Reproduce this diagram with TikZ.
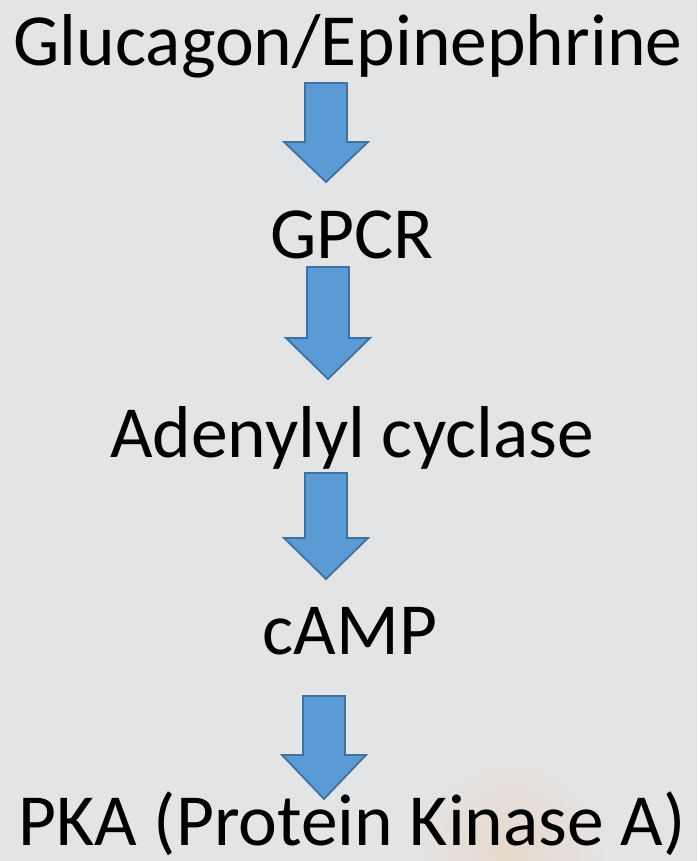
\documentclass[tikz,border=0pt]{standalone}
\usepackage{fontspec}
\setmainfont{Carlito}
\usetikzlibrary{calc}

\definecolor{backgray}{HTML}{E3E4E6}
\definecolor{arrowfill}{HTML}{5B9BD5}
\definecolor{arrowline}{HTML}{41719C}

\begin{document}
\begin{tikzpicture}[x=1pt,y=-1pt,
    step label/.style={anchor=base,inner sep=0pt,font=\fontsize{73.5}{76}\selectfont},
    blockarrow/.style={fill=arrowfill,draw=arrowline,line width=1.8pt,line join=miter}]
        \fill[backgray] (0,0) rectangle (697,861);
        \useasboundingbox (0,0) rectangle (697,861);
        \shade[inner color=orange!12!backgray,outer color=backgray] (510,850) circle (100);

        \node[step label] (hormone) at (348,66) {Glucagon/Epinephrine};
        \node[step label] (gpcr) at (352,258) {GPCR};
        \node[step label] (cyclase) at (352,457) {Adenylyl cyclase};
        \node[step label] (camp) at (350,654) {cAMP};
        \node[step label] (pka) at (352,845) {PKA (Protein Kinase A)};

        % x of the arrow, top of shaft, base of head, tip
        \foreach \x/\top/\base/\tip in {326/83/142/182,328/267/338/379,326/473/538/579,324/696/755/799} {
          \draw[blockarrow] (\x-21,\top) -- (\x+21,\top) -- (\x+21,\base) -- (\x+42,\base)
            -- (\x,\tip) -- (\x-42,\base) -- (\x-21,\base) -- cycle;
        }
      \end{tikzpicture}
\end{document}
